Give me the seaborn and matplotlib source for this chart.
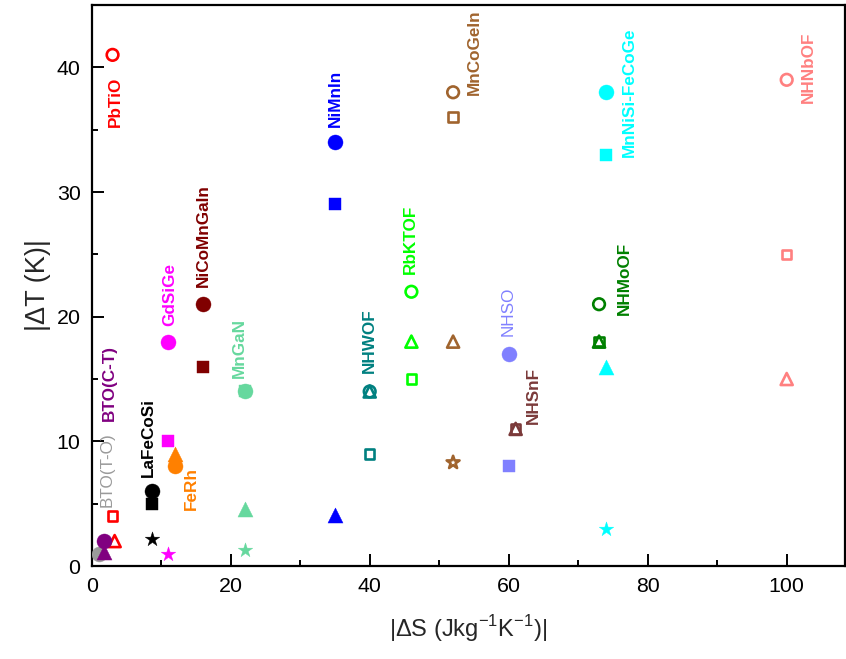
import pandas as pd
import matplotlib
matplotlib.use('Agg')
import matplotlib.pyplot as plt
import seaborn as sns
from matplotlib.ticker import MultipleLocator

# material, marker kind, open/filled, |dS|, |dT|
material = ['PbTiO', 'PbTiO', 'PbTiO',
            'BTO(T-O)',
            'BTO(C-T)', 'BTO(C-T)',
            'LaFeCoSi', 'LaFeCoSi', 'LaFeCoSi',
            'GdSiGe', 'GdSiGe', 'GdSiGe',
            'FeRh', 'FeRh',
            'NiCoMnGaIn', 'NiCoMnGaIn',
            'MnGaN', 'MnGaN', 'MnGaN', 'MnGaN',
            'NiMnIn', 'NiMnIn', 'NiMnIn',
            'NHWOF', 'NHWOF', 'NHWOF',
            'RbKTOF', 'RbKTOF', 'RbKTOF',
            'MnCoGeIn', 'MnCoGeIn', 'MnCoGeIn', 'MnCoGeIn',
            'NHSO', 'NHSO',
            'NHSnF', 'NHSnF',
            'NHMoOF', 'NHMoOF', 'NHMoOF',
            'MnNiSi-FeCoGe', 'MnNiSi-FeCoGe', 'MnNiSi-FeCoGe', 'MnNiSi-FeCoGe',
            'NHNbOF', 'NHNbOF', 'NHNbOF']
marker = ['o', 's', '^',
          'o',
          'o', '^',
          'o', 's', '*',
          'o', 's', '*',
          '^', 'o',
          'o', 's',
          'o', 's', '^', '*',
          'o', 's', '^',
          'o', '^', 's',
          'o', '^', 's',
          'o', 's', '^', '*',
          'o', 's',
          '^', 's',
          'o', '^', 's',
          'o', 's', '^', '*',
          'o', 's', '^']
is_open = [1, 1, 1,
           0,
           0, 0,
           0, 0, 0,
           0, 0, 0,
           0, 0,
           0, 0,
           0, 0, 0, 0,
           0, 0, 0,
           1, 1, 1,
           1, 1, 1,
           1, 1, 1, 1,
           0, 0,
           1, 1,
           1, 1, 1,
           0, 0, 0, 0,
           1, 1, 1]
dS = [3, 3, 3.3,
      1,
      1.8, 1.8,
      8.7, 8.7, 8.7,
      11, 11, 11,
      12, 12,
      16, 16,
      22, 22, 22, 22,
      35, 35, 35,
      40, 40, 40,
      46, 46, 46,
      52, 52, 52, 52,
      60, 60,
      61, 61,
      73, 73, 73,
      74, 74, 74, 74,
      100, 100, 100]
dT = [41, 4, 2,
      1,
      2, 1.1,
      6, 5, 2.2,
      18, 10, 1,
      9, 8,
      21, 16,
      14, 14, 4.6, 1.3,
      34, 29, 4.1,
      14, 14, 9,
      22, 18, 15,
      38, 36, 18, 8.3,
      17, 8,
      11, 11,
      21, 18, 18,
      38, 33, 16, 3,
      39, 25, 15]

colors = {'PbTiO': '#FF0000', 'BTO(T-O)': '#9A9A9A', 'BTO(C-T)': '#800080',
          'LaFeCoSi': '#000000', 'GdSiGe': '#FF00FF', 'FeRh': '#FF8000',
          'NiCoMnGaIn': '#800000', 'MnGaN': '#66D89E', 'NiMnIn': '#0000FF',
          'NHWOF': '#008080', 'RbKTOF': '#00FF00', 'MnCoGeIn': '#A0642E',
          'NHSO': '#8080FF', 'NHSnF': '#7B3A3A', 'NHMoOF': '#008000',
          'MnNiSi-FeCoGe': '#00FFFF', 'NHNbOF': '#FF8080'}

# label anchor (data coords)
label_pos = {'PbTiO': (3.4, 37.2), 'BTO(T-O)': (2.2, 7.7), 'BTO(C-T)': (2.5, 14.7),
             'LaFeCoSi': (8.1, 10.3), 'GdSiGe': (11.3, 21.8), 'FeRh': (14.4, 6.2),
             'NiCoMnGaIn': (16.0, 26.5), 'MnGaN': (21.3, 17.5), 'NiMnIn': (35.0, 37.5),
             'NHWOF': (39.9, 18.1), 'RbKTOF': (45.9, 26.2), 'MnCoGeIn': (55.1, 41.2),
             'NHSO': (59.9, 20.4), 'NHSnF': (63.5, 13.7), 'NHMoOF': (76.6, 23.1),
             'MnNiSi-FeCoGe': (77.3, 38.0), 'NHNbOF': (103.1, 40.0)}
plain_labels = ['BTO(T-O)', 'NHSO']

df = pd.DataFrame({'material': material, 'marker': marker, 'open': is_open,
                   'dS': dS, 'dT': dT})

sns.set_style('ticks')
plt.rcParams['font.family'] = ['Liberation Sans', 'DejaVu Sans']
plt.rcParams['mathtext.fontset'] = 'custom'
plt.rcParams['mathtext.rm'] = 'Liberation Sans'

fig = plt.figure(figsize=(8.46, 6.59), dpi=100)
ax = fig.add_axes([0.1084, 0.1411, 0.8905, 0.8513])

filled_size = {'o': 117, 's': 81, '^': 117, '*': 120}
open_size = {'o': 70, 's': 47, '^': 75, '*': 95}

for i, row in df.iterrows():
    c = colors[row['material']]
    sub = df.loc[[i]]
    if row['open']:
        sns.scatterplot(data=sub, x='dS', y='dT', marker=row['marker'],
                        s=open_size[row['marker']], color=c, facecolor='none',
                        edgecolor=c, linewidth=1.9, ax=ax, legend=False, zorder=3)
    else:
        sns.scatterplot(data=sub, x='dS', y='dT', marker=row['marker'],
                        s=filled_size[row['marker']], color=c, edgecolor=c,
                        linewidth=0.3, ax=ax, legend=False, zorder=3)

for name, (lx, ly) in label_pos.items():
    ax.text(lx, ly, name, rotation=90, ha='center', va='center', fontsize=12.3,
            fontweight='normal' if name in plain_labels else 'bold',
            color=colors[name])

ax.set_xlim(0, 108.4)
ax.set_ylim(0, 45)
ax.xaxis.set_major_locator(MultipleLocator(20))
ax.xaxis.set_minor_locator(MultipleLocator(10))
ax.yaxis.set_major_locator(MultipleLocator(10))
ax.yaxis.set_minor_locator(MultipleLocator(5))
ax.tick_params(which='both', direction='in', width=1.4, labelsize=15.4,
               top=False, right=False, colors='black')
ax.tick_params(which='major', length=8.5, pad=8)
ax.tick_params(which='minor', length=4.5)
for sp in ax.spines.values():
    sp.set_linewidth(1.6)
    sp.set_color('black')

ax.set_xlabel('|ΔS (Jkg$^{-1}$K$^{-1}$)|', fontsize=17, labelpad=12)
ax.set_ylabel('|ΔT (K)|', fontsize=19.5, labelpad=4)

fig.savefig('out.png', dpi=100)
